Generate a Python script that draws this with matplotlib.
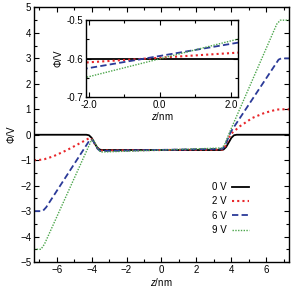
import numpy as np
import matplotlib
matplotlib.use("Agg")
import matplotlib.pyplot as plt
from matplotlib.ticker import MultipleLocator

plt.rcParams["font.family"] = ["Liberation Sans", "DejaVu Sans"]
plt.rcParams["mathtext.fontset"] = "custom"
plt.rcParams["mathtext.it"] = "Liberation Sans:italic"
plt.rcParams["mathtext.rm"] = "Liberation Sans"

# ── Data ─────────────────────────────────────────────────────────────────────
labels = ["0 V", "2 V", "6 V", "9 V"]

z_0v = [-7.3, -4.3, -4.15, -4.0, -3.85, -3.7, -3.55, -3.4,
        3.4, 3.55, 3.7, 3.85, 4.0, 4.15, 4.3, 7.3]
phi_0v = [0.0, 0.0, -0.02, -0.12, -0.3, -0.48, -0.58, -0.6,
          -0.6, -0.58, -0.48, -0.3, -0.12, -0.02, 0.0, 0.0]

z_2v = [-7.3, -7.0, -6.7, -6.2, -5.4, -4.5, -4.1, -3.95, -3.8, -3.65, -3.5,
        3.5, 3.65, 3.8, 3.95, 4.5, 5.2, 5.9, 6.6, 7.0, 7.3]
phi_2v = [-1.0, -0.99, -0.96, -0.85, -0.6, -0.27, -0.12, -0.2, -0.38, -0.54,
          -0.62, -0.58, -0.45, -0.22, 0.02, 0.34, 0.66, 0.86, 0.99, 1.0, 1.0]

z_6v = [-7.3, -6.8, -6.6, -4.1, -3.95, -3.8, -3.65, -3.5,
        3.5, 3.65, 3.8, 3.95, 6.7, 6.85, 7.3]
phi_6v = [-3.0, -3.0, -2.85, -0.2, -0.2, -0.38, -0.56, -0.64,
          -0.55, -0.4, -0.15, 0.1, 2.95, 3.0, 3.0]

z_9v = [-7.3, -6.9, -6.7, -4.0, -3.9, -3.75, -3.6, -3.45,
        3.45, 3.6, 3.75, 3.9, 6.6, 6.8, 7.3]
phi_9v = [-4.5, -4.5, -4.3, -0.2, -0.2, -0.4, -0.6, -0.68,
          -0.52, -0.4, -0.15, 0.1, 4.35, 4.5, 4.5]

# inset: central region, straight lines
z_in = [-2.2, 2.3]
phi_in_0v = [-0.6, -0.6]
phi_in_2v = [-0.611, -0.584]
phi_in_6v = [-0.628, -0.557]
phi_in_9v = [-0.652, -0.547]

# ── Styles ───────────────────────────────────────────────────────────────────
STYLES = [
    dict(color="black", lw=1.3, ls="-"),
    dict(color="#e8262a", lw=1.5, ls=(0, (1, 1.5))),
    dict(color="#2b3a98", lw=1.3, ls=(0, (3.5, 1.8))),
    dict(color="#4ca64c", lw=1.0, ls=(0, (1, 1))),
]


def style_axes(ax, fs):
    ax.tick_params(which="both", direction="in", top=True, right=True,
                   labelsize=fs, width=0.8, pad=2)
    ax.tick_params(which="major", length=3.5)
    ax.tick_params(which="minor", length=2)
    for sp in ax.spines.values():
        sp.set_linewidth(1.0)


fig = plt.figure(figsize=(3.03, 2.87), dpi=100)
ax = fig.add_axes([0.112, 0.087, 0.842, 0.887])

main_z = [z_0v, z_2v, z_6v, z_9v]
main_phi = [phi_0v, phi_2v, phi_6v, phi_9v]
for z, p, lab, st in zip(main_z, main_phi, labels, STYLES):
    ax.plot(z, p, label=lab, **st)

ax.set_xlim(-7.3, 7.3)
ax.set_ylim(-5, 5)
ax.xaxis.set_major_locator(MultipleLocator(2))
ax.xaxis.set_minor_locator(MultipleLocator(1))
ax.yaxis.set_major_locator(MultipleLocator(1))
ax.yaxis.set_minor_locator(MultipleLocator(0.5))
style_axes(ax, 7)
ax.set_xlabel(r"$z$/nm", fontsize=7, labelpad=1)
ax.set_ylabel(r"$\Phi$/V", fontsize=7, labelpad=2)

ax.legend(loc="center", bbox_to_anchor=(0.77, 0.21), frameon=False,
          markerfirst=False, fontsize=7, handlelength=1.7,
          labelspacing=0.45, handletextpad=0.6)

# ── Inset ────────────────────────────────────────────────────────────────────
ins = fig.add_axes([0.284, 0.662, 0.502, 0.268])
ins.set_facecolor("white")
inset_phi = [phi_in_0v, phi_in_2v, phi_in_6v, phi_in_9v]
for p, st in zip(inset_phi, STYLES):
    ins.plot(z_in, p, **st)
ins.set_xlim(-2.07, 2.2)
ins.set_ylim(-0.7, -0.5)
ins.xaxis.set_major_locator(MultipleLocator(2))
ins.xaxis.set_minor_locator(MultipleLocator(1))
ins.yaxis.set_major_locator(MultipleLocator(0.1))
ins.yaxis.set_minor_locator(MultipleLocator(0.05))
ins.xaxis.set_major_formatter(matplotlib.ticker.FormatStrFormatter("%.1f"))
ins.yaxis.set_major_formatter(matplotlib.ticker.FormatStrFormatter("%.1f"))
style_axes(ins, 7)
ins.set_xlabel(r"$z$/nm", fontsize=7, labelpad=0)
ins.set_ylabel(r"$\Phi$/V", fontsize=7, labelpad=2)

fig.savefig("out.png", dpi=100)
